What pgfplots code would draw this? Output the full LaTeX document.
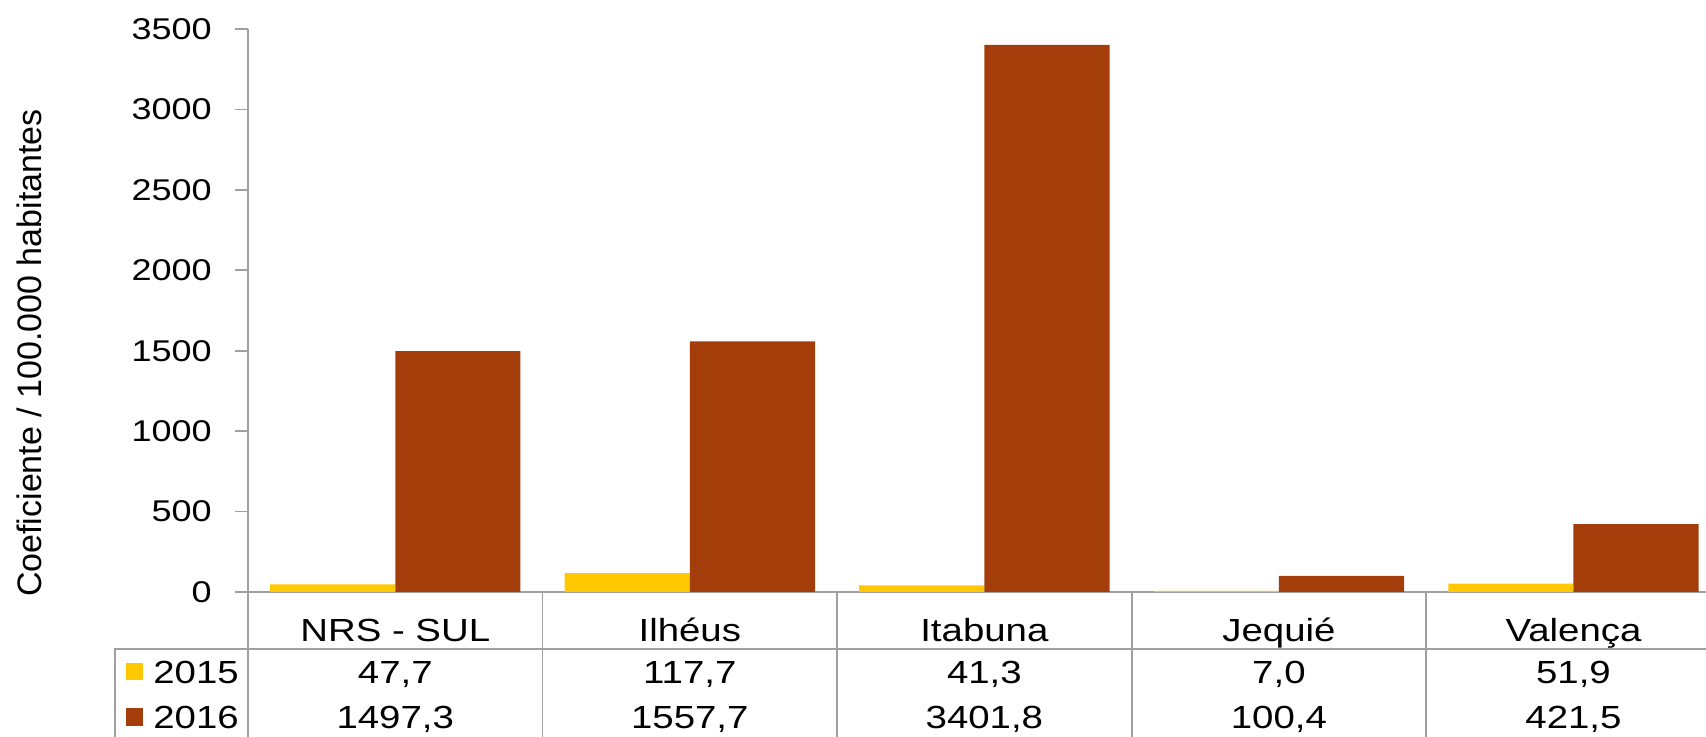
\documentclass[border=0pt]{standalone}
\usepackage{pgfplots}
\pgfplotsset{compat=1.18}
\usepackage{fontspec}
\setmainfont{Liberation Sans}[FakeStretch=1.2]
\newfontfamily\plainfont{Liberation Sans}

\definecolor{ano15}{RGB}{255,200,0}
\definecolor{ano16}{RGB}{163,62,10}
\definecolor{linha}{RGB}{160,160,160}
\newcommand{\fs}{\fontsize{15}{18}\selectfont}
\newcommand{\ft}{\fontsize{16}{19}\selectfont}

% one column of the data table: x, name, 2015, 2016
\newcommand{\coluna}[4]{%
  \node[anchor=base, font=\ft] at ([yshift=-25pt]axis cs:#1,0) {#2};
  \node[anchor=base, font=\ft] at ([yshift=-45.5pt]axis cs:#1,0) {#3};
  \node[anchor=base, font=\ft] at ([yshift=-68pt]axis cs:#1,0) {#4};
}

\begin{document}
\begin{tikzpicture}
\begin{axis}[
  width=729pt, height=281.5pt, scale only axis,
  xmin=-0.5, xmax=4.45, ymin=0, ymax=3500,
  axis x line*=bottom, axis y line*=left,
  axis line style={linha, line width=0.9pt},
  xtick=\empty,
  ytick={0,500,...,3500},
  tick align=outside, major tick length=6.5pt,
  y tick style={linha, line width=0.9pt},
  yticklabel style={font=\fs, inner sep=0pt, anchor=east, xshift=-11.5pt},
  /pgf/number format/assume math mode=true,
  /pgf/number format/1000 sep={},
  ybar, bar width=0.425,
  clip=false,
]
\addplot[fill=ano15, draw=none, bar shift=-0.2125]
  coordinates {(0,47.7) (1,117.7) (2,41.3) (3,7.0) (4,51.9)};
\addplot[fill=ano16, draw=none, bar shift=0.2125]
  coordinates {(0,1497.3) (1,1557.7) (2,3401.8) (3,100.4) (4,421.5)};

% data table grid
\draw[linha, line width=0.9pt] ([xshift=-66.5pt,yshift=-72.5pt]axis cs:-0.5,0)
  -- ([xshift=-66.5pt,yshift=-28.5pt]axis cs:-0.5,0)
  -- ([yshift=-28.5pt]axis cs:4.45,0);
\pgfplotsinvokeforeach{-0.5,0.5,1.5,2.5,3.5}{
  \draw[linha, line width=0.9pt] (axis cs:#1,0) -- ([yshift=-72.5pt]axis cs:#1,0);
}

% legend keys
\node[fill=ano15, minimum size=8.5pt, inner sep=0pt] at ([xshift=-56.5pt,yshift=-40pt]axis cs:-0.5,0) {};
\node[fill=ano16, minimum size=8.5pt, inner sep=0pt] at ([xshift=-56.5pt,yshift=-62.5pt]axis cs:-0.5,0) {};
\node[anchor=base west, inner sep=0pt, font=\ft] at ([xshift=-47.5pt,yshift=-45.5pt]axis cs:-0.5,0) {2015};
\node[anchor=base west, inner sep=0pt, font=\ft] at ([xshift=-47.5pt,yshift=-68pt]axis cs:-0.5,0) {2016};

\coluna{0}{NRS - SUL}{47,7}{1497,3}
\coluna{1}{Ilhéus}{117,7}{1557,7}
\coluna{2}{Itabuna}{41,3}{3401,8}
\coluna{3}{Jequié}{7,0}{100,4}
\coluna{4}{Valença}{51,9}{421,5}

% y label
\node[rotate=90, anchor=base, font=\plainfont\fontsize{17}{20}\selectfont]
  at ([shift={(-103pt,119.5pt)}]axis cs:-0.5,0) {Coeficiente / 100.000 habitantes};
\end{axis}
\pgfresetboundingbox
\path[use as bounding box] (-124pt,-72.5pt) rectangle (729pt,296pt);
\end{tikzpicture}
\end{document}
